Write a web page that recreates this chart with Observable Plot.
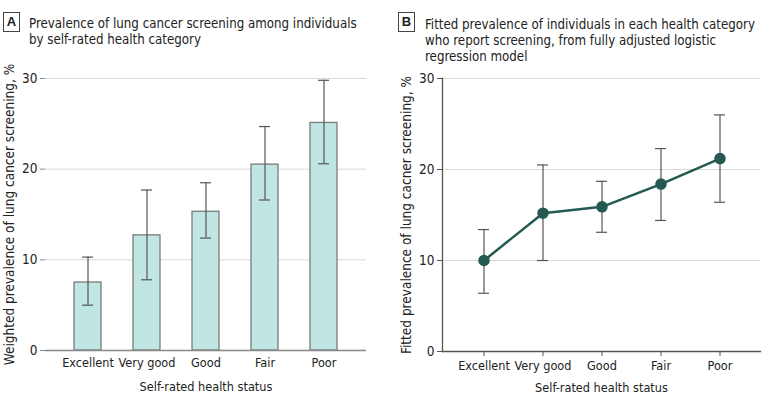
<!DOCTYPE html>
<html>
<head>
<meta charset="utf-8">
<script src="https://cdn.jsdelivr.net/npm/d3@7"></script>
<script src="https://cdn.jsdelivr.net/npm/@observablehq/plot@0.6"></script>
<style>
  html, body { margin: 0; padding: 0; background: #fff; }
  body { width: 783px; height: 406px; position: relative; overflow: hidden;
         font-family: "DejaVu Sans Condensed", "DejaVu Sans", sans-serif; color: #222; }
  .tag { position: absolute; width: 15px; height: 18px; border: 1px solid #444; font-weight: bold;
         font-size: 13px; line-height: 18px; text-align: center; font-family: "Liberation Sans", sans-serif; }
  .title { position: absolute; font-size: 13.2px; line-height: 16px; color: #222; white-space: nowrap; }
  .plot { position: absolute; }
</style>
</head>
<body>
<div class="tag" style="left:3px; top:12px;">A</div>
<div class="title" style="left:29px; top:16px;">Prevalence of lung cancer screening among individuals<br>by self-rated health category</div>
<div class="tag" style="left:398px; top:12px;">B</div>
<div class="title" style="left:425px; top:17px;">Fitted prevalence of individuals in each health category<br>who report screening, from fully adjusted logistic<br>regression model</div>
<div id="chartA" class="plot" style="left:0px; top:60px;"></div>
<div id="chartB" class="plot" style="left:395px; top:60px;"></div>
<script>
const categories = ["Excellent", "Very good", "Good", "Fair", "Poor"];
const yTicks = [0, 10, 20, 30];

// Panel A: weighted prevalence (%) with 95% CI
const weighted = [7.5, 12.7, 15.3, 20.5, 25.1];
const weightedLow = [5.0, 7.8, 12.4, 16.6, 20.6];
const weightedHigh = [10.3, 17.7, 18.5, 24.7, 29.8];

// Panel B: fitted prevalence (%) with 95% CI
const fitted = [10.0, 15.2, 15.9, 18.4, 21.2];
const fittedLow = [6.4, 10.0, 13.1, 14.4, 16.4];
const fittedHigh = [13.4, 20.5, 18.7, 22.3, 26.0];

const dataA = categories.map((c, i) => ({cat: c, v: weighted[i], lo: weightedLow[i], hi: weightedHigh[i]}));
const dataB = categories.map((c, i) => ({cat: c, v: fitted[i], lo: fittedLow[i], hi: fittedHigh[i]}));

const font = '"DejaVu Sans Condensed", "DejaVu Sans", sans-serif';
const style = {fontFamily: font, fontSize: "13px", color: "#222", background: "transparent", overflow: "visible"};

const chartA = Plot.plot({
  width: 390, height: 346,
  marginLeft: 45, marginRight: 24, marginTop: 18, marginBottom: 56,
  style,
  x: {type: "band", domain: categories, paddingInner: 0.545, paddingOuter: 0.475},
  y: {domain: [0, 30]},
  marks: [
    Plot.gridY(yTicks, {stroke: "#d9d9d9", strokeOpacity: 1, strokeWidth: 1}),
    Plot.barY(dataA, {x: "cat", y: "v", fill: "#c0e6e4", stroke: "#7a7a7a", strokeWidth: 1.3}),
    Plot.ruleX(dataA, {x: "cat", y1: "lo", y2: "hi", stroke: "#555", strokeWidth: 1.2}),
    Plot.tickY(dataA, {x: "cat", y: "lo", stroke: "#555", strokeWidth: 1.2, inset: 8}),
    Plot.tickY(dataA, {x: "cat", y: "hi", stroke: "#555", strokeWidth: 1.2, inset: 8}),
    Plot.axisY(yTicks, {tickSize: 5, tickPadding: 3, stroke: "#888", label: "Weighted prevalence of lung cancer screening, %", labelArrow: "none", labelAnchor: "center", labelOffset: 41, fontSize: 13.5}),
    Plot.axisX({tickSize: 0, tickPadding: 8, label: "Self-rated health status", labelArrow: "none", labelAnchor: "center", labelOffset: 40, fontSize: 12.6}),
    Plot.ruleY([0], {stroke: "#888", strokeWidth: 1.5})
  ]
});
document.getElementById("chartA").appendChild(chartA);

const chartB = Plot.plot({
  width: 388, height: 346,
  marginLeft: 47, marginRight: 23, marginTop: 18, marginBottom: 55,
  style,
  x: {type: "band", domain: categories, paddingInner: 0.815, paddingOuter: 0.58},
  y: {domain: [0, 30]},
  marks: [
    Plot.gridY(yTicks, {stroke: "#d9d9d9", strokeOpacity: 1, strokeWidth: 1}),
    Plot.ruleX(dataB, {x: "cat", y1: "lo", y2: "hi", stroke: "#555", strokeWidth: 1.2}),
    Plot.tickY(dataB, {x: "cat", y: "lo", stroke: "#555", strokeWidth: 1.2}),
    Plot.tickY(dataB, {x: "cat", y: "hi", stroke: "#555", strokeWidth: 1.2}),
    Plot.line(dataB, {x: "cat", y: "v", stroke: "#245a52", strokeWidth: 2.5}),
    Plot.dot(dataB, {x: "cat", y: "v", r: 5, fill: "#245a52", stroke: "#245a52"}),
    Plot.axisY(yTicks, {tickSize: 5, tickPadding: 3, stroke: "#555", label: "Fitted prevalence of lung cacner screening, %", labelArrow: "none", labelAnchor: "center", labelOffset: 41, fontSize: 13.5}),
    Plot.axisX({tickSize: 5, tickPadding: 5, stroke: "#555", label: "Self-rated health status", labelArrow: "none", labelAnchor: "center", labelOffset: 40, fontSize: 12.6}),
    Plot.frame({anchor: "bottom", stroke: "#555", strokeWidth: 1.3}),
    Plot.frame({anchor: "left", stroke: "#555", strokeWidth: 1.3})
  ]
});
document.getElementById("chartB").appendChild(chartB);
</script>
</body>
</html>
